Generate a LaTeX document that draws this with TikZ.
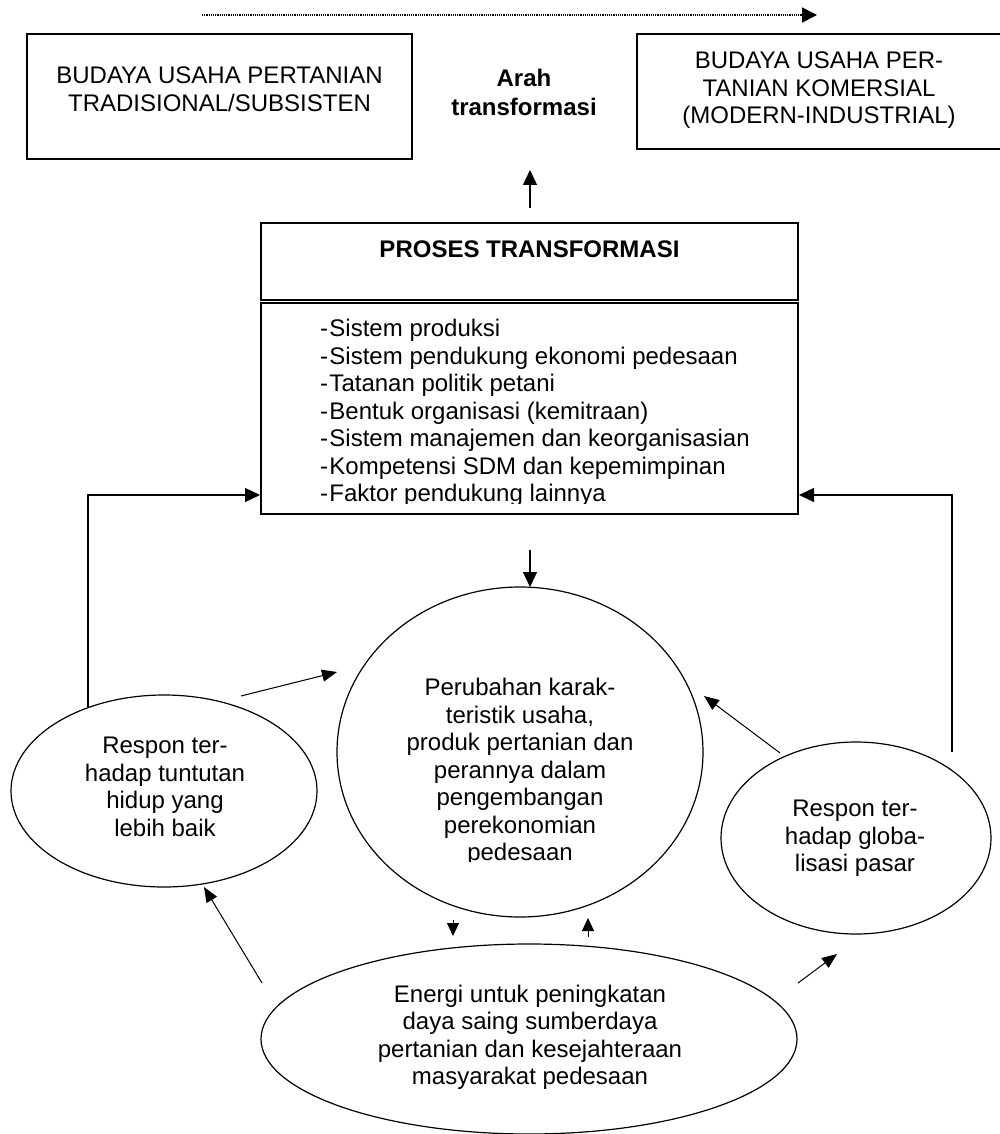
\documentclass[tikz,border=0pt]{standalone}
\usepackage{fontspec}
\setmainfont{Liberation Sans}
\usetikzlibrary{arrows.meta,shapes.geometric}
\begin{document}
\begin{tikzpicture}[x=1pt,y=-1pt,
  every node/.style={font=\fontsize{24}{27.5}\selectfont, inner sep=0pt, outer sep=0pt},
  box/.style={draw, line width=1.3pt, rectangle},
  oval/.style={draw, line width=1.2pt, ellipse},
  txt/.style={align=center},
  boldtxt/.style={align=center, font=\fontsize{24}{29}\selectfont\bfseries},
  item/.style={anchor=base west},
  arr/.style={line width=1.3pt, -{Triangle[length=15pt,width=14pt]}},
  tarr/.style={line width=1pt, -{Triangle[length=15pt,width=12pt]}},
  sarr/.style={line width=1pt, -{Triangle[length=13pt,width=12pt]}},
  dotarr/.style={line width=1.6pt, dash pattern=on 1.2pt off 1pt, -{Triangle[length=15pt,width=15pt]}}
]
\fill[white] (0,0) rectangle (999,1134);
\useasboundingbox (0,0) rectangle (999,1134);

% top dotted direction arrow
\coordinate (dS) at (202,15);
\coordinate (dE) at (817,15);
\draw[dotarr] (dS) -- (dE);

% top boxes
\node[box, minimum width=385pt, minimum height=125pt] (trad) at (219.5,96.5) {};
\node[txt] (tradT) at (219.5,89) {BUDAYA USAHA PERTANIAN\\TRADISIONAL/SUBSISTEN};
\node[box, minimum width=364pt, minimum height=115pt] (kom) at (819,91.5) {};
\node[txt] (komT) at (819,90.5) {BUDAYA USAHA PER-\\TANIAN KOMERSIAL\\(MODERN-INDUSTRIAL)};
\node[boldtxt] (arah) at (524,92.3) {Arah\\transformasi};

% process boxes
\node[box, minimum width=537pt, minimum height=77pt] (head) at (529.5,261.5) {};
\node[font=\fontsize{24}{27.5}\selectfont\bfseries] (headT) at (529.5,249) {PROSES TRANSFORMASI};
\node[box, minimum width=537pt, minimum height=211pt] (list) at (529.5,408.5) {};
\begin{scope}
\clip (262,304) rectangle (797,503);
\node[item] (l1) at (320,336.5) {-\kern1.5pt Sistem produksi};
\node[item] (l2) at (320,364) {-\kern1.5pt Sistem pendukung ekonomi pedesaan};
\node[item] (l3) at (320,391.5) {-\kern1.5pt Tatanan politik petani};
\node[item] (l4) at (320,419) {-\kern1.5pt Bentuk organisasi (kemitraan)};
\node[item] (l5) at (320,446.5) {-\kern1.5pt Sistem manajemen dan keorganisasian};
\node[item] (l6) at (320,474) {-\kern1.5pt Kompetensi SDM dan kepemimpinan};
\node[item] (l7) at (320,501.5) {-\kern1.5pt Faktor pendukung lainnya};
\end{scope}

% ellipses
\node[oval, minimum width=366pt, minimum height=330pt] (cen) at (520,752) {};
\begin{scope}
\clip (340,600) rectangle (700,861);
\node[txt] (cenT) at (520,772) {Perubahan karak-\\teristik usaha,\\produk pertanian dan\\perannya dalam\\pengembangan\\perekonomian\\pedesaan};
\end{scope}
\node[oval, minimum width=306pt, minimum height=192pt] (left) at (164,791) {};
\node[txt] (leftT) at (165,787) {Respon ter-\\hadap tuntutan\\hidup yang\\lebih baik};
\node[oval, minimum width=270pt, minimum height=192pt] (right) at (856,838) {};
\node[txt] (rightT) at (855,838.5) {Respon ter-\\hadap globa-\\lisasi pasar};
\node[oval, minimum width=536pt, minimum height=190pt] (energi) at (529,1039) {};
\node[txt] (energiT) at (530,1037.5) {Energi untuk peningkatan\\daya saing sumberdaya\\pertanian dan kesejahteraan\\masyarakat pedesaan};

% connectors
\coordinate (upS) at (530,208);
\coordinate (upE) at (530,170);
\draw[arr] (upS) -- (upE);

\coordinate (dnS) at (530,550);
\draw[arr] (dnS) -- (cen.north -| dnS);

\coordinate (lfb) at (88,707);
\coordinate (lfbE) at (260,495);
\draw[arr] (lfb) |- (lfbE);
\coordinate (rfb) at (952,752);
\coordinate (rfbE) at (799,495);
\draw[arr] (rfb) |- (rfbE);

\coordinate (lcS) at (241,696);
\coordinate (lcE) at (337,672);
\draw[tarr] (lcS) -- (lcE);
\coordinate (rcS) at (780,753);
\coordinate (rcE) at (704,696);
\draw[tarr] (rcS) -- (rcE);
\coordinate (elS) at (262,983);
\coordinate (elE) at (204,887);
\draw[tarr] (elS) -- (elE);
\coordinate (erS) at (798,983);
\coordinate (erE) at (837,954);
\draw[tarr] (erS) -- (erE);

\coordinate (ceS) at (453,920);
\coordinate (ceE) at (453,936);
\draw[sarr] (ceS) -- (ceE);
\coordinate (ecS) at (588,937);
\coordinate (ecE) at (588,918);
\draw[sarr] (ecS) -- (ecE);
\end{tikzpicture}
\end{document}
